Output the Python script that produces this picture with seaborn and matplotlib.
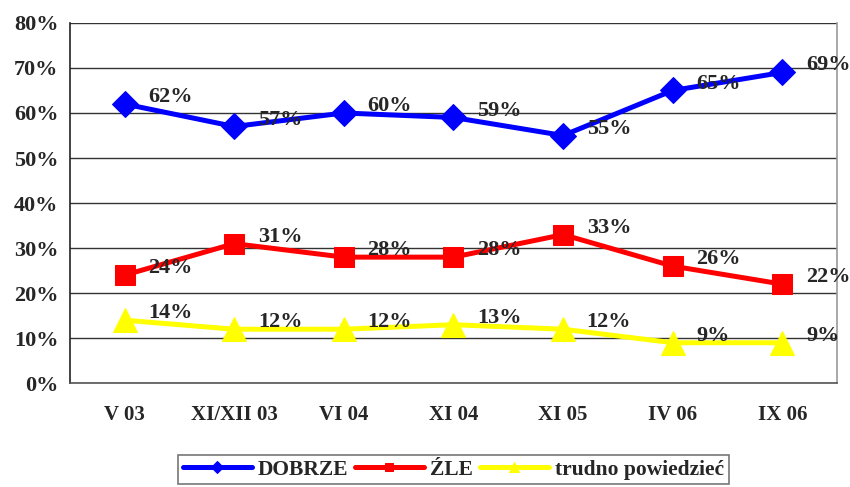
import matplotlib
matplotlib.use("Agg")
import matplotlib.pyplot as plt
import seaborn as sns
import pandas as pd

# Dane z wykresu
okresy = ["V 03", "XI/XII 03", "VI 04", "XI 04", "XI 05", "IV 06", "IX 06"]
dobrze = [62, 57, 60, 59, 55, 65, 69]
zle = [24, 31, 28, 28, 33, 26, 22]
trudno = [14, 12, 12, 13, 12, 9, 9]
serie = ["DOBRZE", "ŹLE", "trudno powiedzieć"]

kolory = {"DOBRZE": "#0000FF", "ŹLE": "#FF0000", "trudno powiedzieć": "#FFFF00"}
markery = {"DOBRZE": "D", "ŹLE": "s", "trudno powiedzieć": "^"}
rozmiary = {"DOBRZE": 13, "ŹLE": 14, "trudno powiedzieć": 17}

df = pd.DataFrame({"okres": okresy * 3,
                   "wartosc": dobrze + zle + trudno,
                   "seria": [s for s in serie for _ in okresy]})
df["x"] = df["okres"].map({o: i for i, o in enumerate(okresy)})

sns.set_theme(style="white")
plt.rcParams["font.family"] = ["Liberation Serif", "DejaVu Serif"]
plt.rcParams["font.weight"] = "bold"

fig, ax = plt.subplots(figsize=(8.5, 4.87), dpi=100)
fig.subplots_adjust(left=0.082, right=0.985, top=0.953, bottom=0.213)

for s in serie:
    d = df[df["seria"] == s]
    sns.lineplot(data=d, x="x", y="wartosc", ax=ax, color=kolory[s], linewidth=3.6,
                 marker=markery[s], markersize=rozmiary[s], markeredgecolor=kolory[s],
                 label=s, zorder=3)
    for xi, v in zip(d["x"], d["wartosc"]):
        ax.annotate(f"{v}%", (xi, v), xytext=(17, 5), textcoords="offset points",
                    ha="left", va="center", fontsize=16, fontweight="bold", zorder=4)

ax.set_xlim(-0.5, len(okresy) - 0.5)
ax.set_ylim(0, 80)
ax.set_yticks(range(0, 81, 10))
ax.set_yticklabels([f"{t}%" for t in range(0, 81, 10)], fontsize=16, fontweight="bold")
ax.set_xticks(range(len(okresy)))
ax.set_xticklabels(okresy, fontsize=15, fontweight="bold")
ax.set_xticks([i - 0.5 for i in range(len(okresy) + 1)], minor=True)
ax.tick_params(axis="x", which="major", length=0, pad=16)
ax.tick_params(axis="x", which="minor", length=5, color="#555555")
ax.tick_params(axis="y", length=5, color="#333333", pad=3)
ax.set_xlabel("")
ax.set_ylabel("")
ax.grid(axis="y", color="#333333", linewidth=1)
ax.set_axisbelow(True)

ax.spines["top"].set_visible(False)
ax.spines["left"].set_color("#222222")
ax.spines["bottom"].set_color("#555555")
ax.spines["right"].set_color("#999999")
for sp in ax.spines.values():
    sp.set_linewidth(1.2)

leg = ax.legend(loc="upper center", bbox_to_anchor=(0.5, -0.17), ncol=3, frameon=True,
                fancybox=False, edgecolor="#555555", fontsize=15.5, handlelength=3.2,
                handletextpad=0.3, columnspacing=0.3, borderpad=0.2, markerscale=0.45)
leg.get_frame().set_linewidth(1.2)

fig.savefig("out.png", dpi=100)
